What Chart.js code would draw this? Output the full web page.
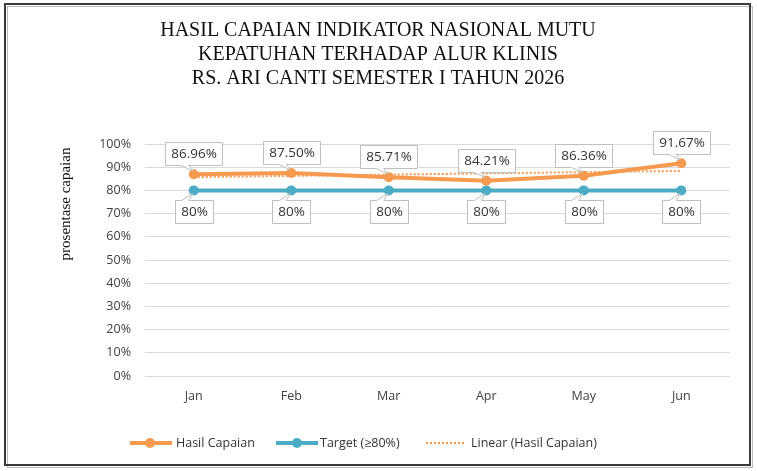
<!DOCTYPE html>
<html>
<head>
<meta charset="utf-8">
<script src="https://cdn.jsdelivr.net/npm/chart.js@4.4.1/dist/chart.umd.min.js"></script>
<style>
html,body{margin:0;padding:0;background:#fff;}
#wrap{position:relative;width:757px;height:471px;}
</style>
</head>
<body>
<div id="wrap"><canvas id="c" width="757" height="471"></canvas></div>
<script>
const categories = ['Jan', 'Feb', 'Mar', 'Apr', 'May', 'Jun'];
const hasilCapaian = [86.96, 87.50, 85.71, 84.21, 86.36, 91.67];
const target = [80, 80, 80, 80, 80, 80];
const linearTrend = [85.74, 86.27, 86.80, 87.33, 87.87, 88.40];
const hasilLabels = ['86.96%', '87.50%', '85.71%', '84.21%', '86.36%', '91.67%'];
const targetLabels = ['80%', '80%', '80%', '80%', '80%', '80%'];
const titleLines = ['HASIL CAPAIAN INDIKATOR NASIONAL MUTU', 'KEPATUHAN TERHADAP ALUR KLINIS', 'RS. ARI CANTI SEMESTER I TAHUN 2026'];
const yAxisTitle = 'prosentase capaian';
const legendNames = ['Hasil Capaian', 'Target (\u226580%)', 'Linear (Hasil Capaian)'];

const ORANGE = '#F59A4E';
const BLUE = '#4BACC6';
const SANS = "'Open Sans', 'Liberation Sans', sans-serif";
const SERIF = "'Liberation Serif', 'DejaVu Serif', serif";

const decor = {
  id: 'decor',
  beforeDraw(chart) {
    const ctx = chart.ctx;
    ctx.save();
    ctx.fillStyle = '#fff';
    ctx.fillRect(0, 0, chart.width, chart.height);
    // frame
    ctx.strokeStyle = '#bbbbbb';
    ctx.lineWidth = 1;
    ctx.strokeRect(7.5, 6.5, 745, 461);
    ctx.strokeStyle = '#3a3a3a';
    ctx.lineWidth = 2;
    ctx.strokeRect(5, 4, 745, 461);
    // title
    ctx.fillStyle = '#111111';
    ctx.font = '20px ' + SERIF;
    ctx.textAlign = 'center';
    ctx.textBaseline = 'middle';
    titleLines.forEach((t, i) => ctx.fillText(t, 378, 31 + i * 24));
    // y axis title
    ctx.save();
    ctx.translate(66, 204);
    ctx.rotate(-Math.PI / 2);
    ctx.font = '15px ' + SERIF;
    ctx.fillText(yAxisTitle, 0, 0);
    ctx.restore();
    ctx.restore();
  },
  afterDraw(chart) {
    const ctx = chart.ctx;
    ctx.save();
    // data label callouts
    const drawCallout = (pt, text, above) => {
      ctx.font = '13.5px ' + SANS;
      const tw = ctx.measureText(text).width;
      const w = tw + 11, h = 23;
      const cx = pt.x;
      const x0 = Math.round(cx - w / 2) + 0.5;
      const x1 = x0 + Math.round(w);
      let y0, y1;
      const wa = cx - 12, wb = cx - 5;
      ctx.beginPath();
      if (above) {
        y1 = Math.round(pt.y - 9) + 0.5; y0 = y1 - h;
        ctx.moveTo(x0, y0); ctx.lineTo(x1, y0); ctx.lineTo(x1, y1);
        ctx.lineTo(wb, y1); ctx.lineTo(pt.x - 1, pt.y - 3); ctx.lineTo(wa, y1);
        ctx.lineTo(x0, y1); ctx.closePath();
      } else {
        y0 = Math.round(pt.y + 10) + 0.5; y1 = y0 + h;
        ctx.moveTo(x0, y0); ctx.lineTo(wa, y0); ctx.lineTo(pt.x - 1, pt.y + 3);
        ctx.lineTo(wb, y0); ctx.lineTo(x1, y0); ctx.lineTo(x1, y1);
        ctx.lineTo(x0, y1); ctx.closePath();
      }
      ctx.fillStyle = '#fff';
      ctx.fill();
      ctx.strokeStyle = '#bfbfbf';
      ctx.lineWidth = 1;
      ctx.stroke();
      ctx.fillStyle = '#333333';
      ctx.textAlign = 'center';
      ctx.textBaseline = 'middle';
      ctx.fillText(text, (x0 + x1) / 2, (y0 + y1) / 2 + 0.5);
    };
    const m0 = chart.getDatasetMeta(0);
    const m1 = chart.getDatasetMeta(1);
    m0.data.forEach((p, i) => drawCallout(p, hasilLabels[i], true));
    m1.data.forEach((p, i) => drawCallout(p, targetLabels[i], false));

    // legend
    const ly = 443;
    ctx.lineCap = 'butt';
    ctx.lineWidth = 4;
    ctx.strokeStyle = ORANGE;
    ctx.beginPath(); ctx.moveTo(130, ly); ctx.lineTo(172, ly); ctx.stroke();
    ctx.fillStyle = ORANGE;
    ctx.beginPath(); ctx.arc(150, ly, 5, 0, Math.PI * 2); ctx.fill();
    ctx.strokeStyle = BLUE;
    ctx.beginPath(); ctx.moveTo(276, ly); ctx.lineTo(318, ly); ctx.stroke();
    ctx.fillStyle = BLUE;
    ctx.beginPath(); ctx.arc(297, ly, 5, 0, Math.PI * 2); ctx.fill();
    ctx.strokeStyle = ORANGE;
    ctx.lineWidth = 2;
    ctx.setLineDash([2, 2]);
    ctx.beginPath(); ctx.moveTo(426, ly); ctx.lineTo(466, ly); ctx.stroke();
    ctx.setLineDash([]);
    ctx.fillStyle = '#333333';
    ctx.font = '12.5px ' + SANS;
    ctx.textAlign = 'left';
    ctx.textBaseline = 'middle';
    ctx.fillText(legendNames[0], 176, ly);
    ctx.fillText(legendNames[1], 320, ly);
    ctx.fillText(legendNames[2], 471, ly);
    ctx.restore();
  }
};

new Chart(document.getElementById('c'), {
  type: 'line',
  data: {
    labels: categories,
    datasets: [
      {
        label: legendNames[0], data: hasilCapaian,
        borderColor: ORANGE, backgroundColor: ORANGE,
        borderWidth: 4, pointRadius: 5, pointBorderWidth: 0,
        pointBackgroundColor: ORANGE, tension: 0, order: 2
      },
      {
        label: legendNames[1], data: target,
        borderColor: BLUE, backgroundColor: BLUE,
        borderWidth: 4, pointRadius: 5, pointBorderWidth: 0,
        pointBackgroundColor: BLUE, tension: 0, order: 3
      },
      {
        label: legendNames[2], data: linearTrend,
        borderColor: ORANGE, borderWidth: 2, borderDash: [2, 2],
        pointRadius: 0, tension: 0, order: 1
      }
    ]
  },
  options: {
    responsive: false,
    animation: false,
    devicePixelRatio: 1,
    layout: { padding: { top: 144, right: 27, bottom: 60, left: 10 } },
    plugins: { legend: { display: false }, title: { display: false }, tooltip: { enabled: false } },
    scales: {
      x: {
        offset: true,
        grid: { display: false, drawTicks: false },
        border: { display: false },
        ticks: { color: '#404040', font: { family: SANS, size: 12.5 }, padding: 13 },
        afterFit(s) { s.height = 35; }
      },
      y: {
        min: 0, max: 100,
        grid: { color: '#d9d9d9', lineWidth: 1, drawTicks: false },
        border: { display: false },
        ticks: { stepSize: 10, color: '#404040', font: { family: SANS, size: 12.5 }, padding: 14,
          callback: v => v + '%' },
        afterFit(s) { s.width = 135; }
      }
    }
  },
  plugins: [decor]
});
</script>
</body>
</html>
